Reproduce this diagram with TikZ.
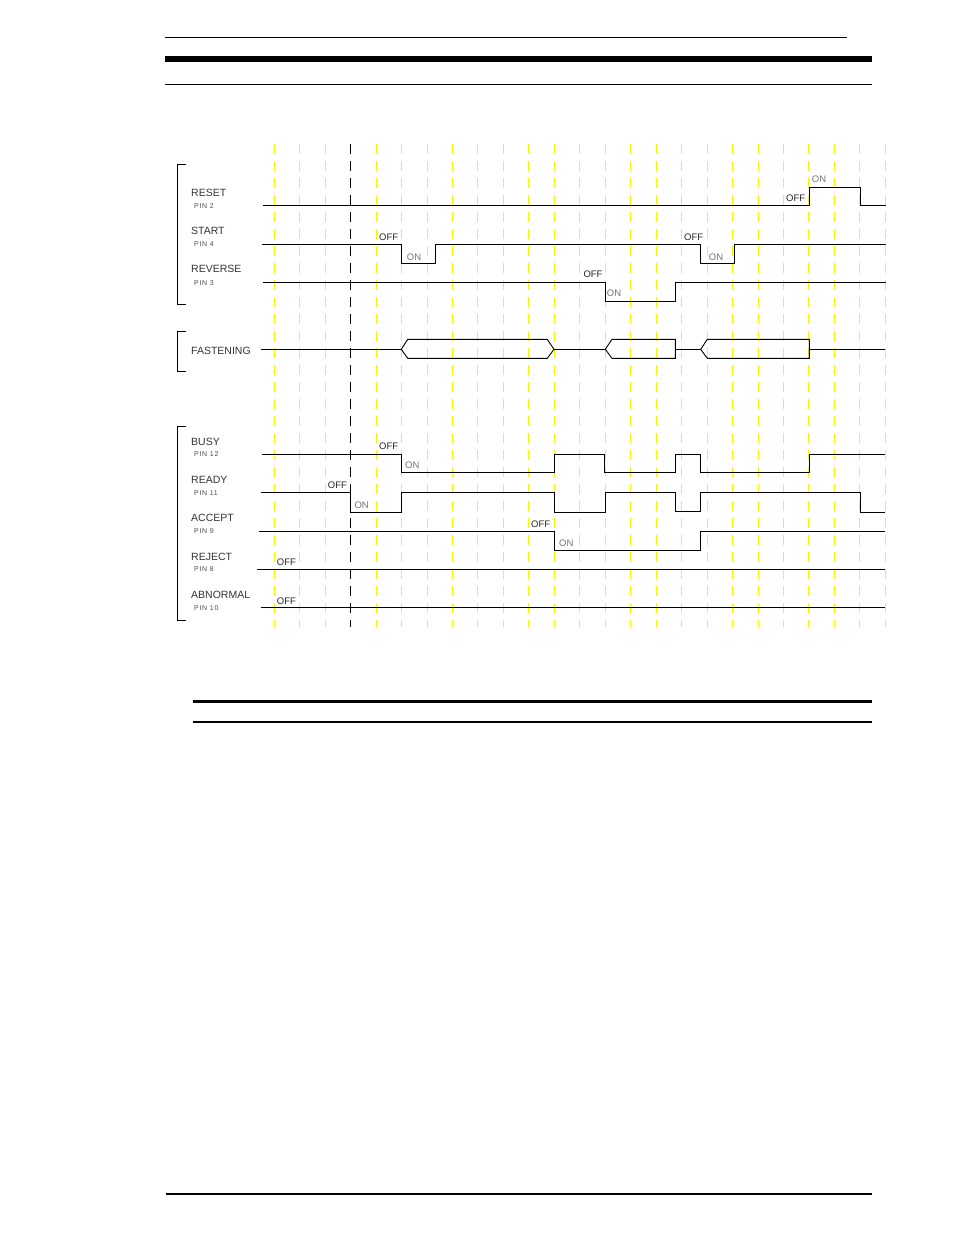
\documentclass[tikz,border=0pt]{standalone}
\usepackage{fontspec}
\setmainfont{Liberation Sans}
\newfontfamily\pinfont[LetterSpace=10]{Liberation Sans}

\begin{document}
\begin{tikzpicture}[
    x=1pt, y=-1pt,
    sig/.style={line width=0.9pt},
    guia/.style={yellow, line width=1pt, dash pattern=on 10pt off 7pt},
    marca/.style={black, line width=1pt, dash pattern=on 10pt off 7pt},
    senal/.style={anchor=base west, inner sep=0pt, text=black!80, font=\fontsize{10.5}{12}\selectfont},
    pin/.style={anchor=base west, inner sep=0pt, text=black!70, font=\pinfont\fontsize{7}{8}\selectfont},
    off/.style={anchor=base west, inner sep=0pt, text=black!85, font=\fontsize{9.5}{11}\selectfont},
    on/.style={anchor=base west, inner sep=0pt, text=black!55, font=\fontsize{9.5}{11}\selectfont}
]
    \useasboundingbox (0,0) rectangle (954,1235);

    % Cabecera
    \draw[line width=1pt] (165,37) -- (847,37);
    \fill (165,56) rectangle (872,62);
    \draw[line width=1pt] (165,84) -- (872,84);

    % Guias
    \foreach \i in {0,...,24}
        \draw[guia] (274.3+25.46*\i,144) -- (274.3+25.46*\i,627);
    \draw[marca] (350.3,144) -- (350.3,627);

    % Corchetes
    \draw[line width=1pt] (186,164.7) -- (177.3,164.7) -- (177.3,304) -- (186,304);
    \draw[line width=1pt] (186,331.7) -- (177.3,331.7) -- (177.3,371) -- (186,371);
    \draw[line width=1pt] (186,426) -- (177.3,426) -- (177.3,620) -- (186,620);

    % Entradas
    \node[senal] (reset) at (191,196.5) {RESET};
    \node[pin] (resetpin) at (194,208) {PIN 2};
    \node[senal] (start) at (191,234.3) {START};
    \node[pin] (startpin) at (194,246) {PIN 4};
    \node[senal] (reverse) at (191,272.7) {REVERSE};
    \node[pin] (reversepin) at (194,285) {PIN 3};

    \draw[sig] (263,205.3) -| (809.3,187.3) -| (860.3,205.3) -- (885.7,205.3);
    \draw[sig] (262,244.3) -| (401.3,263.3) -| (435.3,244.3) -| (700,263.3) -| (734,244.3) -- (885.7,244.3);
    \draw[sig] (263.3,282.7) -| (605.3,301.3) -| (675.3,282.7) -- (885.7,282.7);

    \node[off] (resetoff) at (786,201.7) {OFF};
    \node[on] (reseton) at (811.7,182) {ON};
    \node[off] (startoff1) at (379,240) {OFF};
    \node[on] (starton1) at (406.7,260) {ON};
    \node[off] (startoff2) at (684,240) {OFF};
    \node[on] (starton2) at (708.7,260.7) {ON};
    \node[off] (reverseoff) at (583.3,277.3) {OFF};
    \node[on] (reverseon) at (606.7,296.7) {ON};

    % Apriete
    \node[senal] (fastening) at (191,354) {FASTENING};
    \draw[sig] (261,349.3) -- (401.3,349.3);
    \draw[sig] (401.3,349.3) -- (407.7,339.3) -- (547.3,339.3) -- (554,349.3) -- (547.3,358.3) -- (407.7,358.3) -- cycle;
    \draw[sig] (554,349.3) -- (605.3,349.3);
    \draw[sig] (605.3,349.3) -- (612,339.3) -- (675.3,339.3) -- (675.3,358.3) -- (612,358.3) -- cycle;
    \draw[sig] (675.3,349.3) -- (700.7,349.3);
    \draw[sig] (700.7,349.3) -- (707.3,339.3) -- (809.3,339.3) -- (809.3,358.3) -- (707.3,358.3) -- cycle;
    \draw[sig] (809.3,349.3) -- (885,349.3);

    % Salidas
    \node[senal] (busy) at (191,445) {BUSY};
    \node[pin] (busypin) at (194,456.7) {PIN 12};
    \node[senal] (ready) at (191,483.3) {READY};
    \node[pin] (readypin) at (194,495.3) {PIN 11};
    \node[senal] (accept) at (191,521.7) {ACCEPT};
    \node[pin] (acceptpin) at (194,533.3) {PIN 9};
    \node[senal] (reject) at (191,560) {REJECT};
    \node[pin] (rejectpin) at (194,571.7) {PIN 8};
    \node[senal] (abnormal) at (191,598.3) {ABNORMAL};
    \node[pin] (abnormalpin) at (194,610) {PIN 10};

    \draw[sig] (262,454) -| (401.3,472.7) -| (554.7,454) -| (604.7,472.7) -| (675.3,454) -| (700,472.7) -| (809,454) -- (885,454);
    \draw[sig] (260.7,492) -| (350.3,512) -| (401.3,492) -| (554.7,512) -| (605.3,492) -| (675.3,511) -| (700,492) -| (860.3,512) -- (885,512);
    \draw[sig] (259,531) -| (554.7,550.3) -| (700,531) -- (885,531);
    \draw[sig] (257,569.3) -- (885,569.3);
    \draw[sig] (261,607.3) -- (885,607.3);

    \node[off] (busyoff) at (379,449.3) {OFF};
    \node[on] (busyon) at (405,468.7) {ON};
    \node[off] (readyoff) at (327.7,488.3) {OFF};
    \node[on] (readyon) at (354.3,508.3) {ON};
    \node[off] (acceptoff) at (531,527.3) {OFF};
    \node[on] (accepton) at (559,546.7) {ON};
    \node[off] (rejectoff) at (276.7,565) {OFF};
    \node[off] (abnormaloff) at (276.7,604) {OFF};

    % Pie
    \draw[line width=2.5pt] (193,701.3) -- (872,701.3);
    \draw[line width=2.5pt] (193,722) -- (872,722);
    \draw[line width=1.2pt] (166,1194) -- (872,1194);

\end{tikzpicture}
\end{document}
